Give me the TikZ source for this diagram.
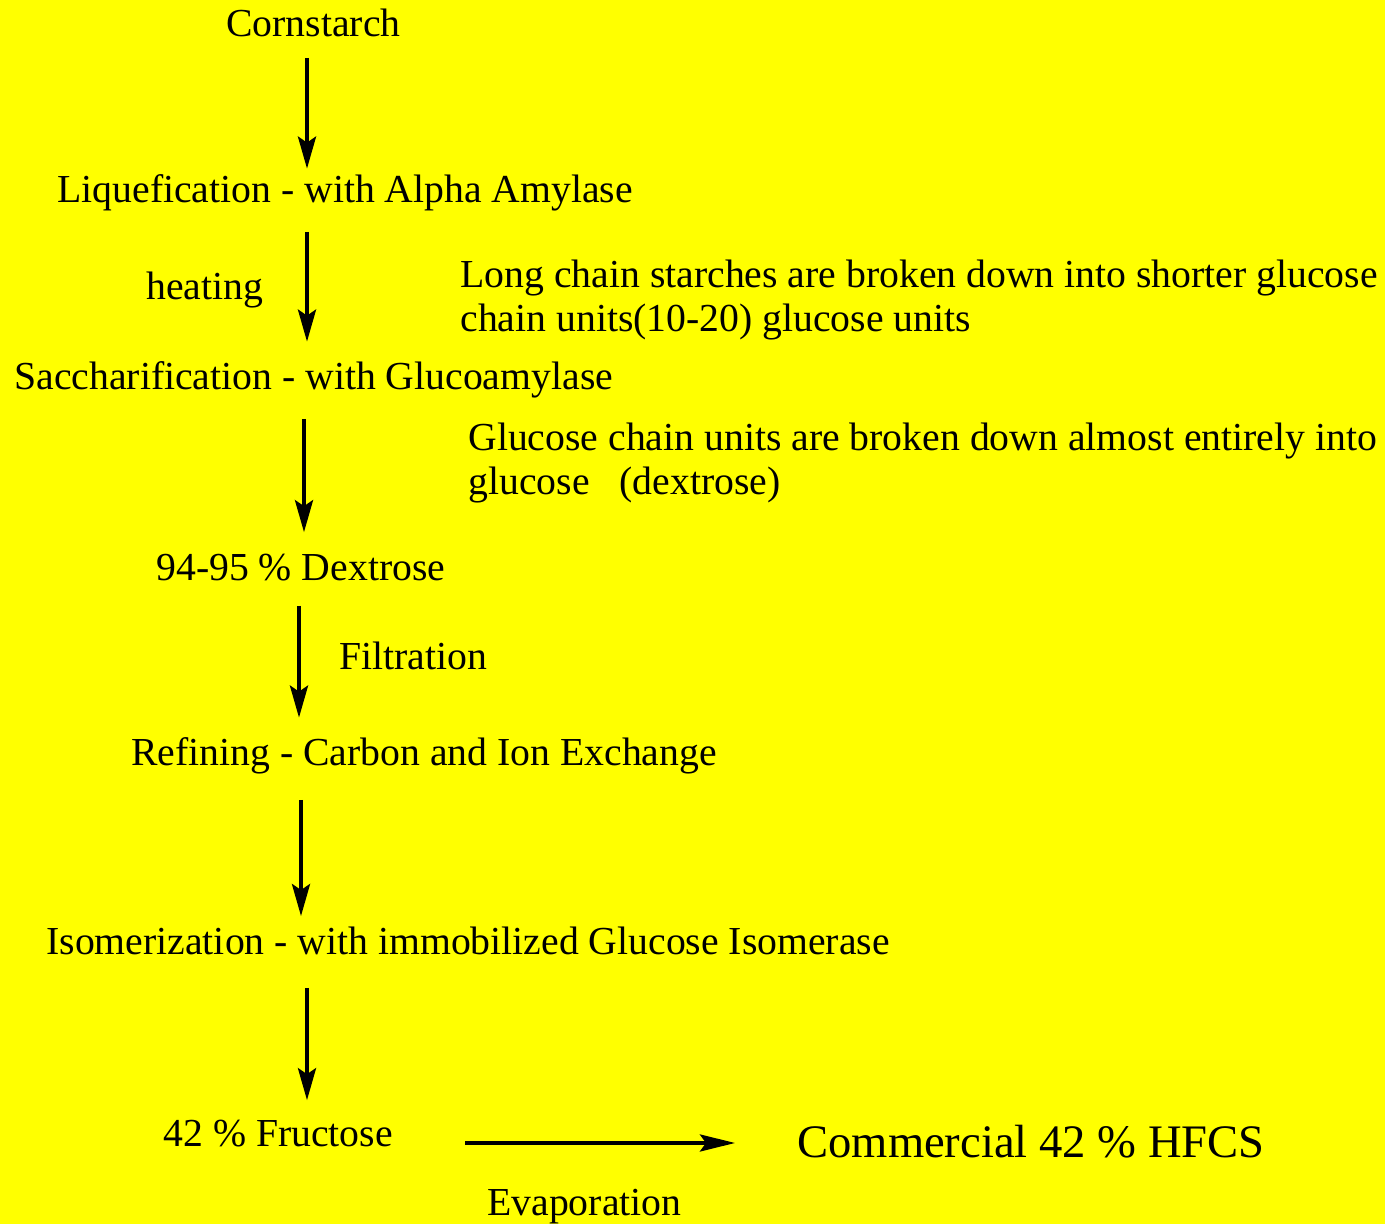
\documentclass[tikz,border=0pt]{standalone}
\usepackage{fontspec}
\setmainfont{Liberation Serif}
\usetikzlibrary{arrows.meta}
\definecolor{bgyellow}{RGB}{255,255,0}

\begin{document}
\begin{tikzpicture}[
                stepnode/.style={anchor=base west, inner xsep=0pt, inner ysep=10pt, font=\fontsize{19.85pt}{21.7pt}\selectfont},
                notenode/.style={anchor=north west, inner sep=0pt, align=left, font=\fontsize{19.85pt}{21.7pt}\selectfont},
                flow/.style={-{Stealth[length=16pt, width=9pt, inset=3pt]}, line width=2pt},
                flowside/.style={-{Stealth[length=17.5pt, width=8.5pt, inset=3pt]}, line width=2pt}
                ]
                %% Background
                \useasboundingbox (0pt, 0pt) rectangle (692.5pt, 612pt);
                \fill[bgyellow] (0pt, 0pt) rectangle (692.5pt, 612pt);

                %% Steps
                \node[stepnode] (corn) at (113pt, 593.5pt) {Cornstarch};
                \node[stepnode] (liq) at (28.5pt, 510.5pt) {Liquefication - with Alpha Amylase};
                \node[stepnode] (heat) at (73pt, 462pt) {heating};
                \node[stepnode] (sacc) at (7pt, 417pt) {Saccharification - with Glucoamylase};
                \node[stepnode] (dex) at (78pt, 321.5pt) {94-95 \% Dextrose};
                \node[stepnode] (filt) at (169.5pt, 277pt) {Filtration};
                \node[stepnode] (refn) at (65.5pt, 229pt) {Refining - Carbon and Ion Exchange};
                \node[stepnode] (isom) at (23pt, 134.5pt) {Isomerization - with immobilized Glucose Isomerase};
                \node[stepnode] (fruc) at (81.5pt, 38.5pt) {42 \% Fructose};
                \node[stepnode, font=\fontsize{23.3pt}{26pt}\selectfont] (hfcs) at (398.5pt, 33pt) {Commercial 42 \% HFCS};
                \node[stepnode] (evap) at (243.5pt, 4pt) {Evaporation};

                % Notes
                \node[notenode] (note1) at (230pt, 482pt) {Long chain starches are broken down into shorter glucose\\chain units(10-20) glucose units};
                \node[notenode] (note2) at (234pt, 400.5pt) {Glucose chain units are broken down almost entirely into\\glucose\hspace{15pt}(dextrose)};

                %% Arrows
                \coordinate (col1) at (153.5pt, 0pt);
                \coordinate (col3) at (152pt, 0pt);
                \coordinate (col4) at (149.5pt, 0pt);
                \coordinate (col5) at (150.5pt, 0pt);
                \coordinate (evrow) at (0pt, 40.5pt);
                \draw[flow, shorten >=-7pt] (corn.south -| col1) -- (liq.north -| col1);
                \draw[flow] (liq.south -| col1) -- (sacc.north -| col1);
                \draw[flow, shorten >=1pt] (sacc.south -| col3) -- (dex.north -| col3);
                \draw[flow, shorten <=2pt] (dex.south -| col4) -- (refn.north -| col4);
                \draw[flow, shorten <=2.5pt, shorten >=-4.5pt] (refn.south -| col5) -- (isom.north -| col5);
                \draw[flow, shorten <=6pt] (isom.south -| col1) -- (fruc.north -| col1);
                \draw[flowside, shorten <=36pt, shorten >=31pt] (fruc.east |- evrow) -- (hfcs.west |- evrow);
\end{tikzpicture}
\end{document}
